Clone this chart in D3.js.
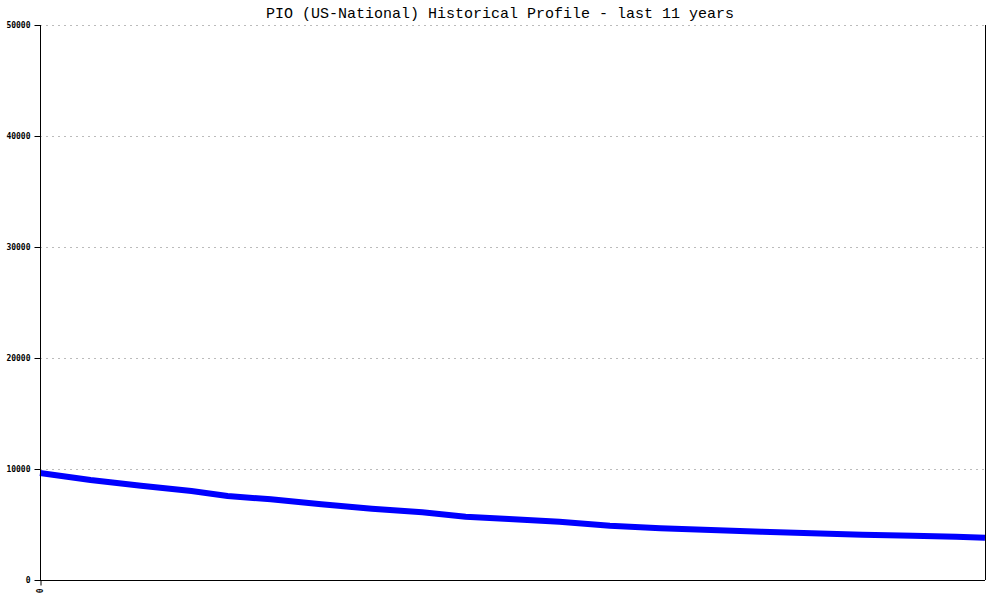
<!DOCTYPE html>
<html><head><meta charset="utf-8">
<script src="https://cdn.jsdelivr.net/npm/d3@7"></script>
<style>body{margin:0;background:#fff}svg{display:block}</style>
</head><body><svg id="c" width="1000" height="600"></svg>
<script>
const title = "PIO (US-National) Historical Profile - last 11 years";
const months = [0,7,14,21,26,32,39,46,53,59,65,72,79,86,93,100,107,114,121,127,131];
const values = [9640,9009,8495,8018,7568,7270,6820,6424,6099,5703,5495,5252,4892,4658,4505,4351,4207,4081,3991,3901,3811];
const yTicks = [0,10000,20000,30000,40000,50000];
const xTicks = [0];

const svg = d3.select("#c");
const L=40,R=985,T=25,B=580;
const x = d3.scaleLinear().domain([0,131]).range([L,R]);
const y = d3.scaleLinear().domain([0,50000]).range([B,T]);

svg.append("text").attr("x",500).attr("y",18).attr("text-anchor","middle")
  .attr("font-family","Liberation Mono, DejaVu Sans Mono, monospace").attr("font-size",15)
  .attr("fill","#000").text(title);

// gridlines
svg.append("g").selectAll("line").data(yTicks.filter(d=>d>0)).join("line")
  .attr("x1",L).attr("x2",R).attr("y1",d=>y(d)+0.5).attr("y2",d=>y(d)+0.5)
  .attr("stroke","#bbb").attr("stroke-dasharray","2,4");

// line
svg.append("path").datum(months.map((m,i)=>[m,values[i]]))
  .attr("fill","none").attr("stroke","#0000ff").attr("stroke-width",6)
  .attr("d",d3.line().x(d=>x(d[0])).y(d=>y(d[1])));

// left axis
const ya = svg.append("g").attr("transform",`translate(${L+0.5},0)`)
  .call(d3.axisLeft(y).tickValues(yTicks).tickSize(6).tickPadding(4).tickFormat(d3.format("d")));
ya.select(".domain").attr("stroke","#000").attr("d",`M0,${T}V${B}`);
ya.selectAll("text").attr("font-family","DejaVu Sans Mono, monospace").attr("font-size",8).attr("font-weight","bold");

// bottom axis
const xa = svg.append("g").attr("transform",`translate(0,${B+0.5})`)
  .call(d3.axisBottom(x).tickValues(xTicks).tickSize(5).tickFormat(d3.format("d")));
xa.select(".domain").attr("stroke","#000").attr("d",`M${L},0H${R}`);
xa.selectAll(".tick line").attr("transform","translate(0.5,0)");
xa.selectAll("text").attr("font-family","DejaVu Sans Mono, monospace").attr("font-size",8).attr("font-weight","bold")
  .attr("transform","rotate(-90)").attr("text-anchor","end").attr("dy","0.35em").attr("x",-8).attr("y",0);

// right border
svg.append("line").attr("x1",R+0.5).attr("x2",R+0.5).attr("y1",T).attr("y2",B).attr("stroke","#000");
</script></body></html>
